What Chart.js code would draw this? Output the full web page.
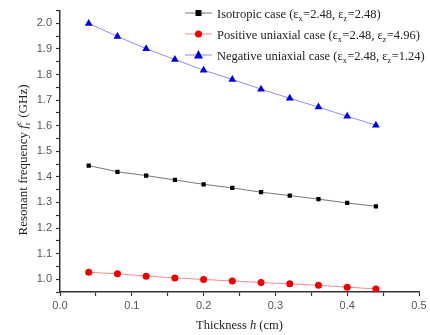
<!DOCTYPE html>
<html>
<head>
<meta charset="utf-8">
<script src="https://cdn.jsdelivr.net/npm/chart.js@4/dist/chart.umd.min.js"></script>
<style>
  html, body { margin: 0; padding: 0; background: #fff; }
</style>
</head>
<body>
<canvas id="chart" width="430" height="335"></canvas>
<script>
// data
const thickness = [0.04, 0.08, 0.12, 0.16, 0.20, 0.24, 0.28, 0.32, 0.36, 0.40, 0.44];
const isotropic = [1.444, 1.420, 1.405, 1.388, 1.371, 1.357, 1.340, 1.327, 1.313, 1.298, 1.285];
const positive  = [1.027, 1.021, 1.012, 1.005, 0.999, 0.993, 0.987, 0.982, 0.976, 0.969, 0.962];
const negative  = [2.000, 1.949, 1.901, 1.859, 1.817, 1.781, 1.743, 1.707, 1.673, 1.637, 1.602];

const SERIF = '"Liberation Serif", "Times New Roman", serif';
const SANS = '"Liberation Sans", Arial, sans-serif';

// legend text pieces, subscripts drawn smaller
const legendTexts = [
  [{t: 'Isotropic case (ε'}, {sub: 'x'}, {t: '=2.48, ε'}, {sub: 'z'}, {t: '=2.48)'}],
  [{t: 'Positive uniaxial case (ε'}, {sub: 'x'}, {t: '=2.48, ε'}, {sub: 'z'}, {t: '=4.96)'}],
  [{t: 'Negative uniaxial case (ε'}, {sub: 'x'}, {t: '=2.48, ε'}, {sub: 'z'}, {t: '=1.24)'}]
];
const yTitle = [{t: 'Resonant frequency '}, {t: 'f', it: true}, {sub: 'r', sup: 'c'}, {t: ' (GHz)'}];
const xTitle = [{t: 'Thickness '}, {t: 'h', it: true}, {t: ' (cm)'}];

function toXY(ys) {
  return thickness.map((x, i) => ({x: x, y: ys[i]}));
}

// rich text helper (normal / italic / sub+sup)
function richWidth(ctx, segs, size) {
  let w = 0;
  segs.forEach(s => {
    if (s.t !== undefined) {
      ctx.font = (s.it ? 'italic ' : '') + size + 'px ' + SERIF;
      w += ctx.measureText(s.t).width;
    } else {
      ctx.font = Math.round(size * 0.65) + 'px ' + SERIF;
      w += Math.max(ctx.measureText(s.sub || '').width, ctx.measureText(s.sup || '').width) + 0.5;
    }
  });
  return w;
}
function drawRich(ctx, segs, x, y, size) {
  ctx.textBaseline = 'alphabetic';
  ctx.textAlign = 'left';
  segs.forEach(s => {
    if (s.t !== undefined) {
      ctx.font = (s.it ? 'italic ' : '') + size + 'px ' + SERIF;
      ctx.fillText(s.t, x, y);
      x += ctx.measureText(s.t).width;
    } else {
      ctx.font = Math.round(size * 0.65) + 'px ' + SERIF;
      let w = 0;
      if (s.sub) { ctx.fillText(s.sub, x, y + size * 0.25); w = ctx.measureText(s.sub).width; }
      if (s.sup) { ctx.fillText(s.sup, x, y - size * 0.45); w = Math.max(w, ctx.measureText(s.sup).width); }
      x += w + 0.5;
    }
  });
}

function marker(ctx, style, x, y, r, color) {
  ctx.fillStyle = color;
  ctx.beginPath();
  if (style === 'rect') {
    ctx.rect(x - r, y - r, 2 * r, 2 * r);
  } else if (style === 'circle') {
    ctx.arc(x, y, r, 0, Math.PI * 2);
  } else {
    ctx.moveTo(x, y - r * 1.1);
    ctx.lineTo(x + r, y + r * 0.75);
    ctx.lineTo(x - r, y + r * 0.75);
    ctx.closePath();
  }
  ctx.fill();
}

const extras = {
  id: 'extras',
  afterDraw(chart) {
    const ctx = chart.ctx;
    ctx.save();
    // legend
    chart.data.datasets.forEach((ds, i) => {
      const y = 13 + 21 * i;
      ctx.strokeStyle = ds.borderColor;
      ctx.lineWidth = 1;
      ctx.beginPath();
      ctx.moveTo(185, y); ctx.lineTo(212, y);
      ctx.stroke();
      marker(ctx, ds.pointStyle, 198.5, y, ds.pointRadius, ds.pointBackgroundColor);
      ctx.fillStyle = '#222';
      drawRich(ctx, legendTexts[i], 217, y + 4.5, 12.5);
    });
    // x title
    ctx.fillStyle = '#222';
    const a = chart.chartArea;
    const xw = richWidth(ctx, xTitle, 12.5);
    drawRich(ctx, xTitle, (a.left + a.right) / 2 - xw / 2, 329, 12.5);
    // y title
    const yw = richWidth(ctx, yTitle, 13);
    ctx.translate(27, 160);
    ctx.rotate(-Math.PI / 2);
    drawRich(ctx, yTitle, -yw / 2, 0, 13);
    ctx.restore();
  }
};

function lbl(v) {
  const k = Math.round(v * 100);
  return k % 10 === 0 ? (k / 100).toFixed(1) : '';
}

const ctx = document.getElementById('chart').getContext('2d');
const myChart = new Chart(ctx, {
  type: 'line',
  data: {
    datasets: [{
      label: 'Isotropic case',
      data: toXY(isotropic),
      borderColor: '#777777',
      borderWidth: 1,
      pointStyle: 'rect',
      pointRadius: 3,
      pointBackgroundColor: '#000000',
      pointBorderWidth: 0
    }, {
      label: 'Positive uniaxial case',
      data: toXY(positive),
      borderColor: '#ff8a8a',
      borderWidth: 1,
      pointStyle: 'circle',
      pointRadius: 3.5,
      pointBackgroundColor: '#ee0000',
      pointBorderWidth: 0
    }, {
      label: 'Negative uniaxial case',
      data: toXY(negative),
      borderColor: '#8c8cff',
      borderWidth: 1,
      pointStyle: 'triangle',
      pointRadius: 4.5,
      pointBackgroundColor: '#0000dd',
      pointBorderWidth: 0
    }]
  },
  options: {
    responsive: false,
    animation: false,
    layout: { padding: { top: 9, right: 11, left: 0, bottom: 0 } },
    plugins: { legend: { display: false }, tooltip: { enabled: false } },
    scales: {
      x: {
        type: 'linear',
        min: 0, max: 0.5,
        border: { color: '#333', width: 1.5 },
        grid: { drawOnChartArea: false, tickLength: 4, tickColor: '#333', tickWidth: 1.2 },
        ticks: { stepSize: 0.05, autoSkip: false, maxRotation: 0, padding: 3,
                 color: '#555', font: { family: SANS, size: 11 }, callback: lbl },
        afterFit(s) { s.height = 43; }
      },
      y: {
        min: 0.95, max: 2.05,
        border: { color: '#333', width: 1.5 },
        grid: { drawOnChartArea: false, tickLength: 4, tickColor: '#333', tickWidth: 1.2 },
        ticks: { stepSize: 0.05, autoSkip: false, padding: 4,
                 color: '#555', font: { family: SANS, size: 11 }, callback: lbl },
        afterFit(s) { s.width = 60; }
      }
    }
  },
  plugins: [extras]
});
</script>
</body>
</html>
